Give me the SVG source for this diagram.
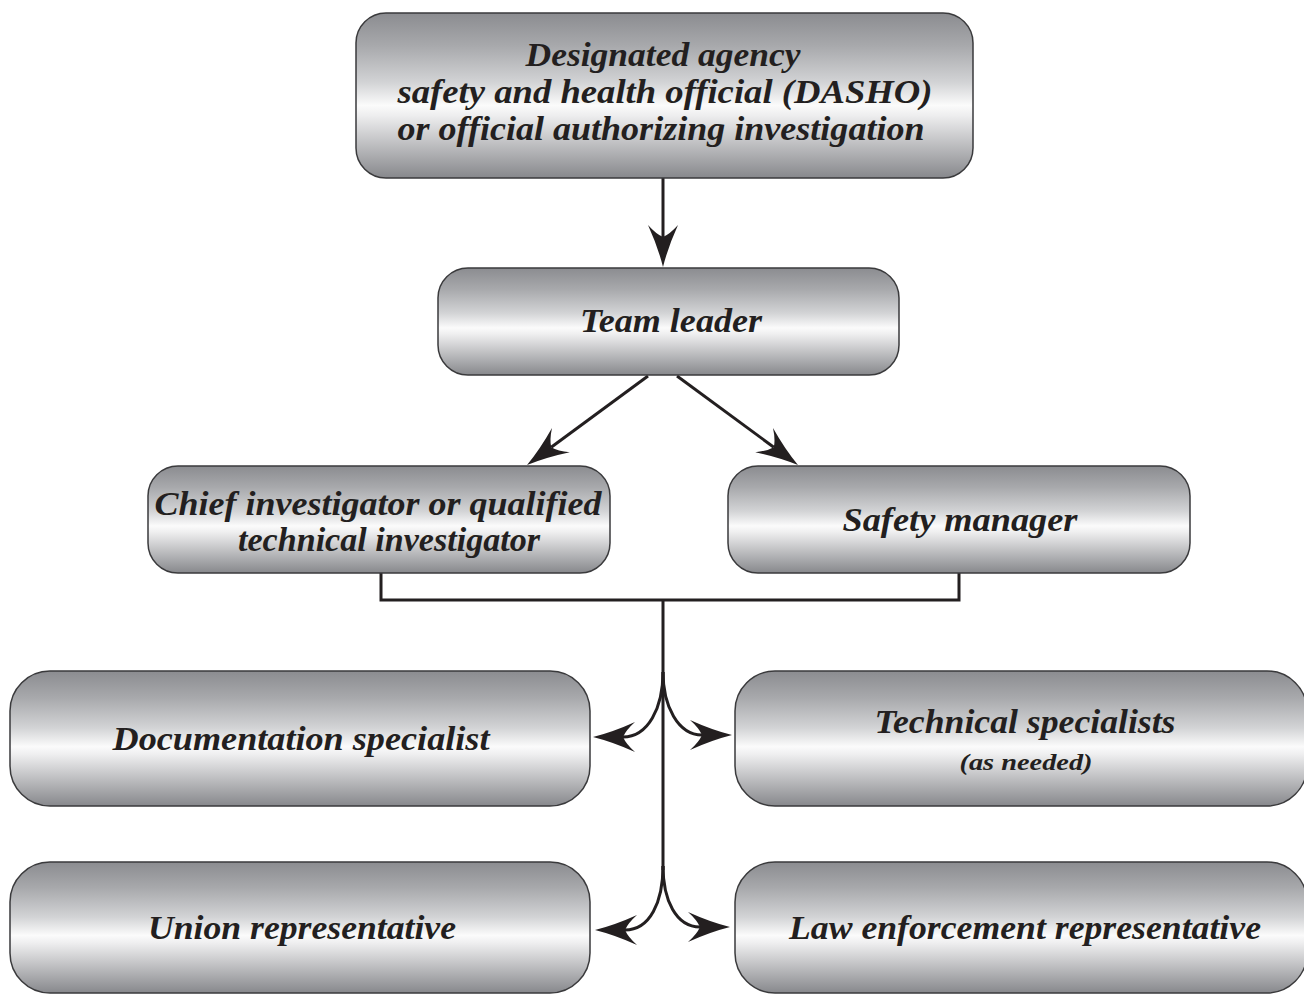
<svg xmlns="http://www.w3.org/2000/svg" width="1304" height="994" viewBox="0 0 1304 994">
<defs>
<linearGradient id="shade" x1="0" y1="0" x2="0" y2="1">
<stop offset="0" stop-color="#8b8c90"/>
<stop offset="0.2" stop-color="#a8a9ac"/>
<stop offset="0.42" stop-color="#d2d3d5"/>
<stop offset="0.56" stop-color="#fbfbfb"/>
<stop offset="0.62" stop-color="#eeeeef"/>
<stop offset="1" stop-color="#87888c"/>
</linearGradient>
<marker id="arr" markerUnits="userSpaceOnUse" viewBox="-44 -17 48 34" refX="-30" refY="0" markerWidth="48" markerHeight="34" orient="auto">
<path d="M0,0 Q-20,-5 -42,-15 Q-33,-7 -30,0 Q-33,7 -42,15 Q-20,5 0,0Z" fill="#231f20"/>
</marker>
</defs>
<style>
.box{fill:url(#shade);stroke:#3a3a3c;stroke-width:1.5}
.t{font-family:"Liberation Serif","DejaVu Serif",serif;font-style:italic;font-weight:bold;font-size:34px;fill:#231f20;text-anchor:middle}
.s{font-size:23px}
.c{fill:none;stroke:#231f20;stroke-width:3}
</style>
<g id="connectors">
<line class="c" x1="663" y1="178" x2="663" y2="237" marker-end="url(#arr)"/>
<line class="c" x1="648" y1="376" x2="551.2" y2="447.2" marker-end="url(#arr)"/>
<line class="c" x1="677" y1="376" x2="773.8" y2="447.2" marker-end="url(#arr)"/>
<polyline class="c" points="381,573 381,600 959,600 959,573" stroke-width="2.5"/>
<line class="c" x1="663" y1="600" x2="663" y2="870"/>
<path class="c" d="M663,672 C663,708 648,737 623,737" marker-end="url(#arr)"/>
<path class="c" d="M663,672 C663,706 678,735 702,735" marker-end="url(#arr)"/>
<path class="c" d="M663,866 C663,902 650,930 625,930" marker-end="url(#arr)"/>
<path class="c" d="M663,866 C663,900 676,927 700,927" marker-end="url(#arr)"/>
</g>
<g id="dasho">
<rect class="box" x="356" y="13" width="617" height="165" rx="30"/>
<text class="t" x="663" y="66" textLength="275" lengthAdjust="spacingAndGlyphs">Designated agency</text>
<text class="t" x="665" y="103" textLength="535" lengthAdjust="spacingAndGlyphs">safety and health official (DASHO)</text>
<text class="t" x="661" y="140" textLength="527" lengthAdjust="spacingAndGlyphs">or official authorizing investigation</text>
</g>
<g id="team-leader">
<rect class="box" x="438" y="268" width="461" height="107" rx="30"/>
<text class="t" x="671" y="332" textLength="182" lengthAdjust="spacingAndGlyphs">Team leader</text>
</g>
<g id="chief">
<rect class="box" x="148" y="466" width="462" height="107" rx="30"/>
<text class="t" x="378" y="515" textLength="447" lengthAdjust="spacingAndGlyphs">Chief investigator or qualified</text>
<text class="t" x="389" y="551" textLength="302" lengthAdjust="spacingAndGlyphs">technical investigator</text>
</g>
<g id="safety-manager">
<rect class="box" x="728" y="466" width="462" height="107" rx="30"/>
<text class="t" x="960" y="531" textLength="235" lengthAdjust="spacingAndGlyphs">Safety manager</text>
</g>
<g id="documentation">
<rect class="box" x="10" y="671" width="580" height="135" rx="40"/>
<text class="t" x="301" y="750" textLength="377" lengthAdjust="spacingAndGlyphs">Documentation specialist</text>
</g>
<g id="technical">
<rect class="box" x="735" y="671" width="572" height="135" rx="40"/>
<text class="t" x="1025" y="733" textLength="301" lengthAdjust="spacingAndGlyphs">Technical specialists</text>
<text class="t s" x="1026" y="770" textLength="133" lengthAdjust="spacingAndGlyphs">(as needed)</text>
</g>
<g id="union">
<rect class="box" x="10" y="862" width="580" height="131" rx="40"/>
<text class="t" x="302" y="939" textLength="308" lengthAdjust="spacingAndGlyphs">Union representative</text>
</g>
<g id="law">
<rect class="box" x="735" y="862" width="572" height="131" rx="40"/>
<text class="t" x="1025" y="939" textLength="472" lengthAdjust="spacingAndGlyphs">Law enforcement representative</text>
</g>
</svg>
